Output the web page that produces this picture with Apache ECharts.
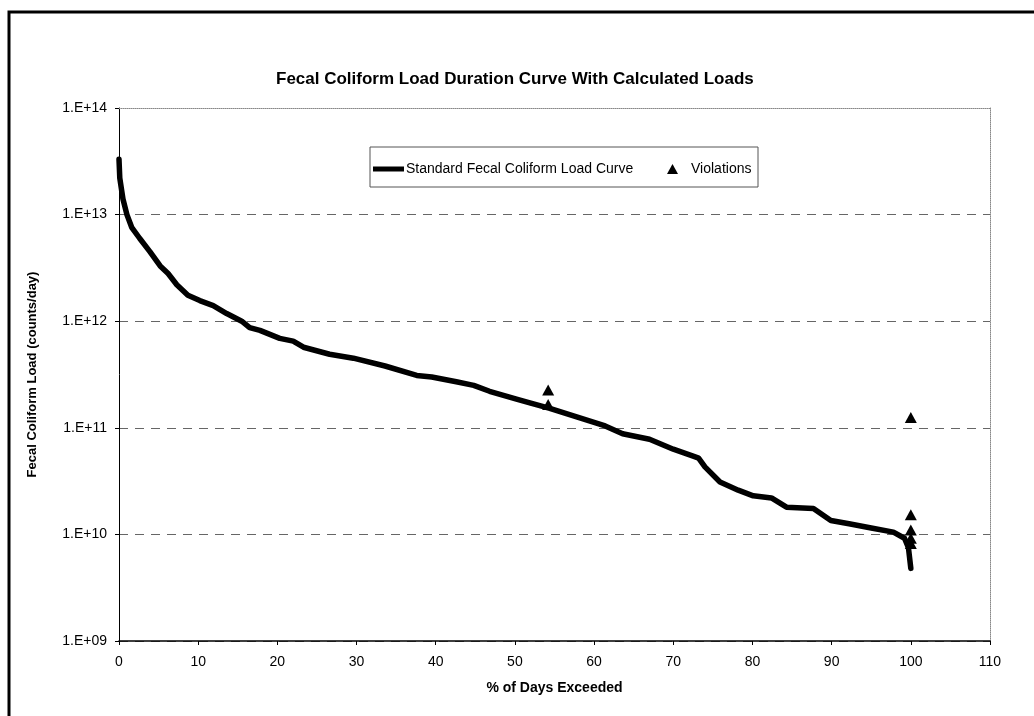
<!DOCTYPE html>
<html>
<head>
<meta charset="utf-8">
<script src="https://cdn.jsdelivr.net/npm/echarts@6/dist/echarts.min.js"></script>
<style>
html,body{margin:0;padding:0;background:#fff;}
#chart{width:1034px;height:716px;}
</style>
</head>
<body>
<div id="chart"></div>
<script>
// ---- data ----
const titleText = 'Fecal Coliform Load Duration Curve With Calculated Loads';
const xAxisTitle = '% of Days Exceeded';
const yAxisTitle = 'Fecal Coliform Load (counts/day)';
const curveName = 'Standard Fecal Coliform Load Curve';
const violationName = 'Violations';

// % of days exceeded
const curveX = [0, 0.1, 0.5, 1.0, 1.6, 2.6, 3.9, 5.2, 6.2, 7.3, 8.7, 10.2, 11.9, 13.6, 15.5, 16.5, 17.8,
  20.3, 22, 23.3, 26.6, 29.6, 33.6, 37.6, 39.5, 42.6, 44.8, 46.8, 50.2, 52, 54.4, 58, 61.4, 63.6, 67,
  70, 72.6, 73.2, 74, 75.9, 78.2, 80.1, 82.4, 84.3, 87.7, 89.9, 92.2, 95, 97.8, 99.2, 99.7, 100];
// load (counts/day)
const curveY = [3.3e13, 2.2e13, 1.4e13, 1.0e13, 7.6e12, 6.0e12, 4.5e12, 3.3e12, 2.8e12, 2.2e12, 1.75e12, 1.56e12,
  1.4e12, 1.18e12, 1.0e12, 8.7e11, 8.2e11, 6.9e11, 6.5e11, 5.7e11, 4.9e11, 4.5e11, 3.8e11, 3.1e11, 3.0e11,
  2.7e11, 2.5e11, 2.2e11, 1.86e11, 1.7e11, 1.52e11, 1.25e11, 1.04e11, 8.8e10, 7.8e10, 6.3e10, 5.4e10, 5.2e10,
  4.3e10, 3.1e10, 2.6e10, 2.3e10, 2.2e10, 1.8e10, 1.75e10, 1.35e10, 1.26e10, 1.15e10, 1.05e10, 9.2e9, 7.5e9, 4.8e9];

const violationX = [54.2, 54.2, 100, 100, 100, 100, 100];
const violationY = [2.26e11, 1.65e11, 1.25e11, 1.53e10, 1.1e10, 9.2e9, 8.2e9];

const xTicks = {min: 0, max: 110, interval: 10};
const yRange = {min: 1e9, max: 1e14};

// ---- build ----
const FONT = '"Liberation Sans", Arial, sans-serif';
const curveData = curveX.map((x, i) => [x, curveY[i]]);
const violationData = violationX.map((x, i) => [x, violationY[i]]);

function expLabel(v) {
  const e = Math.round(Math.log10(v));
  return '1.E+' + (e < 10 ? '0' + e : '' + e);
}

const chart = echarts.init(document.getElementById('chart'), null, {renderer: 'canvas'});
chart.setOption({
  backgroundColor: '#ffffff',
  animation: false,
  title: {
    text: titleText,
    left: 276, top: 71, padding: 0,
    textStyle: {fontFamily: FONT, fontSize: 17, fontWeight: 'bold', color: '#000'}
  },
  legend: [
    {
      data: [{name: curveName, icon: 'rect'}],
      left: 373, top: 162, padding: 0,
      itemWidth: 31, itemHeight: 5,
      textStyle: {fontFamily: FONT, fontSize: 14, color: '#000', padding: [0, 0, 0, -3]},
      selectedMode: false
    },
    {
      data: [{name: violationName, icon: 'triangle', itemStyle: {color: '#000', opacity: 1}}],
      left: 667, top: 162, padding: 0,
      itemWidth: 11, itemHeight: 10,
      textStyle: {fontFamily: FONT, fontSize: 14, color: '#000', padding: [0, 0, 0, 8]},
      selectedMode: false
    }
  ],
  graphic: [
    {type: 'rect', shape: {x: 370, y: 147, width: 388, height: 40},
     style: {fill: 'none', stroke: '#555', lineWidth: 1}, z: 1},
    {type: 'rect', shape: {x: 9, y: 12, width: 1030, height: 712},
     style: {fill: 'none', stroke: '#000', lineWidth: 3}, z: 1}
  ],
  grid: {left: 119, right: 44, top: 108, bottom: 75, containLabel: false},
  xAxis: [
    {
      type: 'value', min: xTicks.min, max: xTicks.max, interval: xTicks.interval,
      position: 'bottom',
      name: xAxisTitle, nameLocation: 'middle', nameGap: 40,
      nameTextStyle: {fontFamily: FONT, fontSize: 14, fontWeight: 'bold', color: '#000'},
      axisLine: {show: true, onZero: false, lineStyle: {color: '#000', width: 1.5}},
      axisTick: {show: true, length: 4, lineStyle: {color: '#000'}},
      axisLabel: {fontFamily: FONT, fontSize: 14, color: '#000', margin: 14},
      splitLine: {show: false}
    },
    {
      type: 'value', min: xTicks.min, max: xTicks.max, position: 'top',
      axisLine: {show: true, onZero: false, lineStyle: {color: '#888', width: 1, type: 'dotted'}},
      axisTick: {show: false}, axisLabel: {show: false}, splitLine: {show: false}
    }
  ],
  yAxis: [
    {
      type: 'log', logBase: 10, min: yRange.min, max: yRange.max,
      position: 'left',
      name: yAxisTitle, nameLocation: 'middle', nameGap: 80,
      nameTextStyle: {fontFamily: FONT, fontSize: 13, fontWeight: 'bold', color: '#000'},
      axisLine: {show: true, onZero: false, lineStyle: {color: '#000', width: 1}},
      axisTick: {show: true, length: 4, lineStyle: {color: '#000'}},
      axisLabel: {fontFamily: FONT, fontSize: 14, color: '#000', margin: 12, formatter: expLabel},
      splitLine: {show: true, showMinLine: false, showMaxLine: false,
        lineStyle: {color: '#666', width: 1, type: [9, 7]}},
      minorTick: {show: false}
    },
    {
      type: 'log', logBase: 10, min: yRange.min, max: yRange.max, position: 'right',
      axisLine: {show: true, onZero: false, lineStyle: {color: '#888', width: 1, type: 'dotted'}},
      axisTick: {show: false}, axisLabel: {show: false}, splitLine: {show: false}
    }
  ],
  series: [
    {
      name: curveName, type: 'line', xAxisIndex: 0, yAxisIndex: 0,
      data: curveData, showSymbol: false, symbol: 'none',
      lineStyle: {color: '#000', width: 5.5, join: 'round', cap: 'round'},
      itemStyle: {color: '#000'},
      z: 3
    },
    {
      name: violationName, type: 'scatter', xAxisIndex: 0, yAxisIndex: 0,
      data: violationData, symbol: 'triangle', symbolSize: [12, 11],
      itemStyle: {color: '#000', opacity: 1},
      z: 4
    }
  ]
});
</script>
</body>
</html>
